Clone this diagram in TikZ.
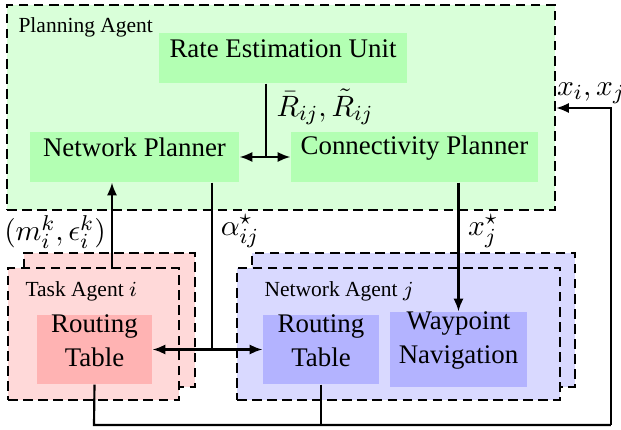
\documentclass[tikz,border=0pt]{standalone}
\usepackage{fontspec}
\setmainfont{LiberationSerif-Regular.ttf}[BoldFont=LiberationSerif-Bold.ttf,ItalicFont=LiberationSerif-Italic.ttf]
\usetikzlibrary{arrows.meta,fit}
\definecolor{gbg}{RGB}{217,255,217}
\definecolor{gnode}{RGB}{179,255,179}
\definecolor{rbg}{RGB}{255,217,217}
\definecolor{rnode}{RGB}{255,179,179}
\definecolor{bbg}{RGB}{217,217,255}
\definecolor{bnode}{RGB}{179,179,255}
\begin{document}
\begin{tikzpicture}[x=0.372pt,y=-0.372pt,
  agentbox/.style={draw,thick,dash pattern=on 3.6pt off 2pt,inner sep=0pt},
  unit/.style={inner sep=0pt,align=center,font=\fontsize{10}{12.5}\selectfont},
  conn/.style={thick},
  arr/.style={thick,-{Latex[length=4.8pt,width=3.8pt]}},
  darr/.style={thick,{Latex[length=4.8pt,width=3.8pt]}-{Latex[length=4.8pt,width=3.8pt]}},
  lbl/.style={font=\fontsize{11}{13}\selectfont,inner sep=0pt},
  small/.style={font=\fontsize{8}{10}\selectfont,inner sep=0pt,anchor=west}]
\useasboundingbox (0,0) rectangle (621,430);

% Planning agent
\node[agentbox,fill=gbg,fit={(7,5) (555,210)}] (plan) {};
\node[small] (plantxt) at (18,27) {Planning Agent};
\node[unit,fill=gnode,fit={(159,33) (407,83)}] (rate) {Rate Estimation Unit};
\node[unit,fill=gnode,fit={(30,132) (239,182)}] (np) {Network Planner};
\node[unit,fill=gnode,fit={(291,132) (538,182)}] (cp) {Connectivity Planner};

% Task agent
\node[agentbox,fill=rbg,fit={(24,253) (195,387)}] (taskback) {};
\node[agentbox,fill=rbg,fit={(8,268) (179,400)}] (task) {};
\node[small] (tasktxt) at (25,291) {Task Agent $i$};
\node[unit,fill=rnode,fit={(37,315) (152,384)}] (trt) {Routing\\Table};

% Network agent
\node[agentbox,fill=bbg,fit={(252,253) (575,387)}] (netback) {};
\node[agentbox,fill=bbg,fit={(237,268) (560,400)}] (net) {};
\node[small] (nettxt) at (264,291) {Network Agent $j$};
\node[unit,fill=bnode,fit={(263,315) (379,384)}] (nrt) {Routing\\Table};
\node[unit,fill=bnode,fit={(390,312) (527,387)}] (wp) {Waypoint\\Navigation};

% coordinates
\coordinate (rj) at (266,157);
\coordinate (aj) at (212,350);
\coordinate (bl) at (94,425);
\coordinate (bm) at (321,425);
\coordinate (br) at (611,425);
\coordinate (tr) at (611,108);

% connectors
\draw[conn] (rate.south -| rj) -- (rj);
\draw[darr] (np.east) -- (cp.west);
\node[lbl,anchor=west] (rlbl) at (276,107) {$\bar{R}_{ij},\tilde{R}_{ij}$};

\draw[arr] (task.north -| 112,0) -- (np.south -| 112,0);
\node[lbl] (mlbl) at (55,232) {$(m_i^k,\epsilon_i^k)$};

\draw[conn] (np.south -| aj) -- (aj);
\draw[darr] (trt.east) -- (nrt.west);
\node[lbl] (albl) at (240,231) {$\alpha_{ij}^\star$};

\draw[arr] (cp.south -| wp.north) -- (wp.north);
\node[lbl] (xlbl) at (483,231) {$x_j^\star$};

\draw[conn] (trt.south) -- (bl) -- (br);
\draw[conn] (nrt.south) -- (bm);
\draw[arr] (br) -- (tr) -- (plan.east |- tr);
\node[lbl] (xilbl) at (591,93) {$x_i,x_j$};
\end{tikzpicture}
\end{document}
